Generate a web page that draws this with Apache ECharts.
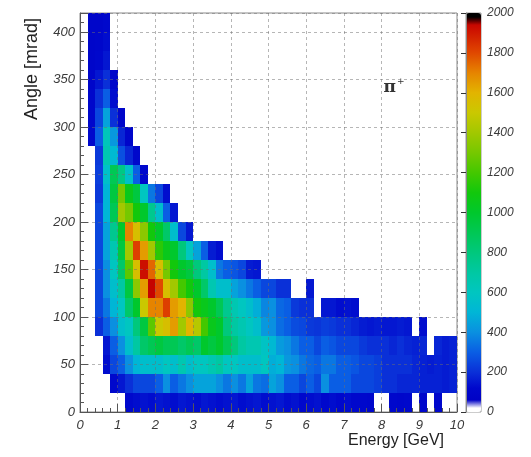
<!DOCTYPE html>
<html>
<head>
<meta charset="utf-8">
<script src="https://cdn.jsdelivr.net/npm/echarts@6/dist/echarts.min.js"></script>
<style>
  html, body { margin: 0; padding: 0; background: #ffffff; }
  #chart { width: 531px; height: 457px; }
</style>
</head>
<body>
<div id="chart"></div>
<script>
// Bin layout of the 2D histogram: energy bins of 0.2 GeV, angle bins of 20 mrad.
const energyBinWidth = 0.2;
const angleBinWidth = 20;

// Counts per energy bin (index 0 -> 0.0-0.2 GeV, 1 -> 0.2-0.4 GeV, ...).
// Missing trailing entries and zeros are empty bins.
const angle0   = [0,0,0,0,0,0,120,130,140,130,150,140,130,150,140,130,150,140,130,140,150,130,140,150,130,140,150,130,140,120,130,140,120,130,120,130,120,120,110,0,0,120,110,120,0,110,0,110];
const angle20  = [0,0,0,0,120,150,200,250,250,250,300,400,300,350,400,450,450,450,400,350,400,350,450,350,330,450,400,300,300,250,300,250,400,300,300,300,250,250,250,230,200,200,180,180,180,170,170,170,160,170];
const angle40  = [0,0,0,130,250,300,400,500,550,550,550,600,550,650,550,600,600,650,700,600,600,550,550,550,600,480,500,420,400,350,320,300,350,350,300,300,280,250,250,230,200,200,200,200,180,170,160,170,160,170];
const angle60  = [0,0,0,150,300,400,550,700,850,900,950,900,900,850,900,850,1000,950,1000,900,800,700,650,650,580,520,430,400,350,300,300,250,300,280,250,250,250,220,200,200,200,180,200,180,170,180,0,180,160,170];
const angle80  = [0,0,200,300,400,550,600,800,950,1250,1500,1550,1650,1400,1600,1450,1200,1050,1000,800,700,650,600,550,420,400,330,300,260,250,220,210,230,220,200,200,180,160,150,160,150,150,160,150,0,130];
const angle100 = [0,0,250,350,500,600,850,1000,1500,1700,1700,1820,1650,1600,1350,1100,1050,1000,900,750,650,600,550,480,380,400,320,300,220,200,200,0,150,150,130,140,130];
const angle120 = [0,0,250,400,550,700,950,1350,1650,1950,1800,1550,1400,1200,1100,1000,850,650,550,550,450,400,350,300,250,250,200,200,0,0,150];
const angle140 = [0,0,250,400,600,850,1250,1550,1920,1750,1550,1300,1100,1000,950,800,700,550,350,300,280,250,160,150];
const angle160 = [0,0,250,450,650,950,1400,1820,1650,1400,1150,1050,1000,800,600,450,300,160,130];
const angle180 = [0,0,250,450,750,1000,1700,1550,1350,1100,1000,850,550,250,150];
const angle200 = [0,0,250,500,900,1400,1300,1100,1000,750,550,300,150];
const angle220 = [0,0,220,500,950,1300,1050,950,600,350,250,130];
const angle240 = [0,0,230,560,900,780,560,300,120];
const angle260 = [0,0,220,650,520,270,180,110];
const angle280 = [0,120,300,620,420,180,100];
const angle300 = [0,110,250,450,200,100];
const angle320 = [0,110,200,300,130];
const angle340 = [0,100,150,200,100];
const angle360 = [0,100,120,150];
const angle380 = [0,100,110,130];
const angle400 = [0,100,100,120];

const angleRows = [angle0, angle20, angle40, angle60, angle80, angle100, angle120,
  angle140, angle160, angle180, angle200, angle220, angle240, angle260, angle280,
  angle300, angle320, angle340, angle360, angle380, angle400];

// Axis ticks
const energyTicks = [0, 1, 2, 3, 4, 5, 6, 7, 8, 9, 10];
const countTicks = [0, 200, 400, 600, 800, 1000, 1200, 1400, 1600, 1800, 2000];

// Cells as [energy low edge, angle low edge, count]
const cells = [];
angleRows.forEach((row, j) => {
  row.forEach((count, i) => {
    if (count > 0) cells.push([+(i * energyBinWidth).toFixed(2), j * angleBinWidth, count]);
  });
});

// Rainbow palette of the z scale, white below the first level, black at the very top.
const paletteStops = [
  [0, '#ffffff'], [36, '#ffffff'], [44, '#0000c4'], [120, '#0008cc'], [200, '#0a30d8'],
  [300, '#0a5ee4'], [400, '#0a90e0'], [500, '#00b6d6'], [600, '#00c6c0'], [700, '#00c8a2'],
  [800, '#00c87c'], [900, '#00c854'], [1000, '#00c82c'], [1100, '#12c80c'], [1200, '#44c800'],
  [1300, '#76c800'], [1400, '#a2c800'], [1500, '#cac800'], [1600, '#e2b400'], [1700, '#e68400'],
  [1800, '#e04800'], [1900, '#d01800'], [1955, '#c40000'], [1965, '#000000'], [2000, '#000000']
];
function hexToRgb(h) { return [1, 3, 5].map(k => parseInt(h.slice(k, k + 2), 16)); }
function paletteAt(v) {
  for (let k = 1; k < paletteStops.length; k++) {
    const [v1, c1] = paletteStops[k];
    const [v0, c0] = paletteStops[k - 1];
    if (v <= v1) {
      const t = v1 === v0 ? 0 : (v - v0) / (v1 - v0);
      const a = hexToRgb(c0), b = hexToRgb(c1);
      return 'rgb(' + a.map((x, n) => Math.round(x + (b[n] - x) * t)).join(',') + ')';
    }
  }
  return paletteStops[paletteStops.length - 1][1];
}
const paletteColors = [];
for (let v = 0; v <= 2000; v += 5) paletteColors.push(paletteAt(v));

const labelFont = { fontFamily: 'Liberation Sans', fontStyle: 'italic', fontSize: 13, color: '#3a3a3a' };
const axisGrey = '#555555';

const chart = echarts.init(document.getElementById('chart'), null, { renderer: 'canvas' });

chart.setOption({
  backgroundColor: '#ffffff',
  animation: false,
  grid: [
    { left: 80, right: 74, top: 13, bottom: 45, show: true, borderColor: '#8a8a8a', borderWidth: 1, backgroundColor: 'transparent' },
    { left: 466, width: 15, top: 13, bottom: 45, show: true, borderColor: '#999', borderWidth: 1, backgroundColor: 'transparent' }
  ],
  xAxis: [
    {
      type: 'value', gridIndex: 0, min: energyTicks[0], max: energyTicks[energyTicks.length - 1], interval: 1, z: 5,
      name: 'Energy [GeV]', nameLocation: 'end', nameGap: -13,
      nameTextStyle: { fontFamily: 'Liberation Sans', fontSize: 16, color: '#222', align: 'right', verticalAlign: 'top', padding: [21, 0, 0, 0] },
      axisLine: { show: true, onZero: false, lineStyle: { color: axisGrey } },
      axisTick: { show: true, inside: true, length: 8, lineStyle: { color: axisGrey } },
      minorTick: { show: true, splitNumber: 5, length: 4, lineStyle: { color: axisGrey } },
      splitLine: { show: true, lineStyle: { type: [3, 3], color: 'rgba(110,110,110,0.5)', width: 1 } },
      axisLabel: Object.assign({ margin: 7 }, labelFont)
    },
    { type: 'value', gridIndex: 1, show: false, min: 0, max: 1 }
  ],
  yAxis: [
    {
      type: 'value', gridIndex: 0, min: 0, max: 420, interval: 50, z: 5,
      name: 'Angle [mrad]', nameLocation: 'end', nameRotate: 90, nameGap: -5,
      nameTextStyle: { fontFamily: 'Liberation Sans', fontSize: 18, color: '#222', align: 'right', verticalAlign: 'bottom', padding: [0, 0, 39, 0] },
      axisLine: { show: true, onZero: false, lineStyle: { color: axisGrey } },
      axisTick: { show: true, inside: true, length: 8, lineStyle: { color: axisGrey } },
      minorTick: { show: true, splitNumber: 5, length: 4, lineStyle: { color: axisGrey } },
      splitLine: { show: true, lineStyle: { type: [3, 3], color: 'rgba(110,110,110,0.5)', width: 1 } },
      axisLabel: Object.assign({ margin: 5, showMaxLabel: false }, labelFont)
    },
    {
      type: 'value', gridIndex: 1, position: 'right', min: countTicks[0], max: countTicks[countTicks.length - 1], interval: 200, z: 5,
      axisLine: { show: true, lineStyle: { color: '#888' } },
      axisTick: { show: true, inside: true, length: 5, lineStyle: { color: '#333' } },
      splitLine: { show: false },
      axisLabel: Object.assign({ margin: 6, formatter: v => String(v) }, labelFont, { fontSize: 12 })
    }
  ],
  visualMap: {
    type: 'continuous', min: 0, max: 2000, dimension: 2, seriesIndex: 0,
    calculable: false, hoverLink: false, orient: 'vertical',
    left: 466, top: 13, itemWidth: 15, itemHeight: 399, padding: 0,
    inRange: { color: paletteColors },
    textStyle: { color: 'transparent' }
  },
  series: [{
    type: 'custom',
    xAxisIndex: 0, yAxisIndex: 0,
    data: cells,
    encode: { x: 0, y: 1 },
    clip: true,
    renderItem: function (params, api) {
      const e0 = api.value(0), a0 = api.value(1);
      const p0 = api.coord([e0, a0]);
      const p1 = api.coord([e0 + energyBinWidth, a0 + angleBinWidth]);
      const x0 = Math.round(p0[0]), x1 = Math.round(p1[0]);
      const yB = Math.round(p0[1]), yT = Math.round(p1[1]);
      return {
        type: 'rect',
        shape: { x: x0, y: yT, width: x1 - x0, height: yB - yT },
        style: { fill: api.visual('color') }
      };
    }
  }],
  graphic: []
});

// Particle label placed in data coordinates of the main frame
const labelPos = chart.convertToPixel({ gridIndex: 0 }, [8.05, 352]);
chart.setOption({
  graphic: [{
    type: 'text', left: labelPos[0], top: labelPos[1],
    style: {
      text: '{p|π}{s|+}',
      rich: {
        p: { fontFamily: 'DejaVu Serif', fontSize: 17, fontWeight: 'bold', fill: '#333' },
        s: { fontFamily: 'DejaVu Sans', fontSize: 9, fill: '#333', verticalAlign: 'top', padding: [0, 0, 10, 1] }
      }
    }
  }]
});
</script>
</body>
</html>
